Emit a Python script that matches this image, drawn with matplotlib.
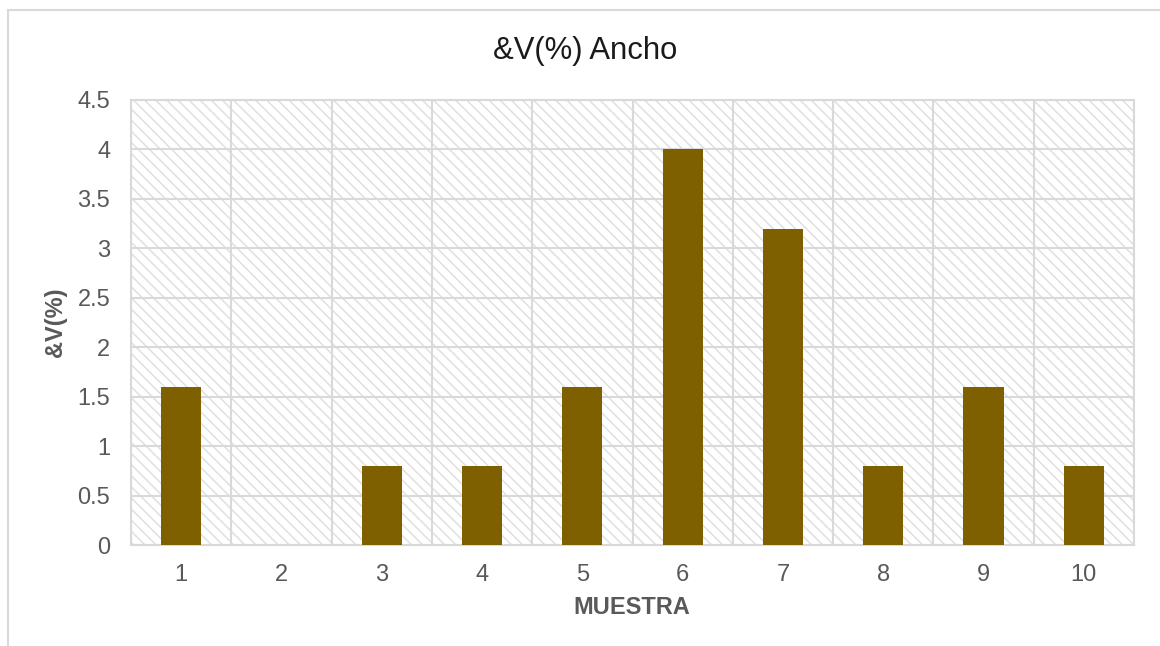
import numpy as np
import matplotlib.pyplot as plt
from matplotlib.patches import Rectangle

plt.rcParams['font.family'] = ['Liberation Sans', 'DejaVu Sans']
plt.rcParams['hatch.color'] = '#E0E0E0'
plt.rcParams['hatch.linewidth'] = 1.1

muestras = ['1', '2', '3', '4', '5', '6', '7', '8', '9', '10']
valores = [1.6, 0, 0.8, 0.8, 1.6, 4.0, 3.2, 0.8, 1.6, 0.8]

gris = '#595959'
fig = plt.figure(figsize=(11.6, 6.46), dpi=100)
fig.patches.append(Rectangle((8 / 1160, -0.1), 1.5, 1.1 - 10 / 646, transform=fig.transFigure,
                             fill=False, edgecolor='#D9D9D9', linewidth=1.5))
ax = fig.add_axes([131 / 1160, 1 - 545 / 646, 1003 / 1160, 445 / 646])

# fondo rayado del área de trazado
ax.add_patch(Rectangle((0, 0), 1, 1, transform=ax.transAxes, facecolor='white',
                       hatch='\\\\\\', edgecolor='#E0E0E0', linewidth=0, zorder=0))

x = np.arange(len(muestras))
ax.bar(x, valores, width=0.4, color='#7F6000', zorder=3)

ax.set_xlim(-0.5, len(muestras) - 0.5)
ax.set_ylim(0, 4.5)
ax.set_yticks(np.arange(0, 4.51, 0.5))
ax.set_yticklabels(['0', '0.5', '1', '1.5', '2', '2.5', '3', '3.5', '4', '4.5'])
ax.set_xticks(x)
ax.set_xticklabels(muestras)
ax.set_xticks(np.arange(-0.5, len(muestras), 1), minor=True)
ax.grid(True, which='minor', axis='x', color='#D9D9D9', linewidth=1.5, zorder=1)
ax.grid(True, which='major', axis='y', color='#D9D9D9', linewidth=1.5, zorder=1)
ax.tick_params(which='both', length=0, labelsize=17, colors=gris)
ax.tick_params(axis='y', pad=15)
ax.tick_params(axis='x', pad=14)
for s in ax.spines.values():
    s.set_color('#D9D9D9')
    s.set_linewidth(1.5)

fig.text(632 / 1160, 1 - 607 / 646, 'MUESTRA', ha='center', va='center',
         fontsize=17, fontweight='bold', color=gris)
fig.text(55 / 1160, 1 - 322 / 646, '&V(%)', ha='center', va='center', rotation=90,
         fontsize=17, fontweight='bold', color=gris)
fig.text(585 / 1160, 1 - 51 / 646, '&V(%) Ancho', ha='center', va='center',
         fontsize=22.3, color='#1a1a1a')

fig.savefig('out.png', dpi=100)
